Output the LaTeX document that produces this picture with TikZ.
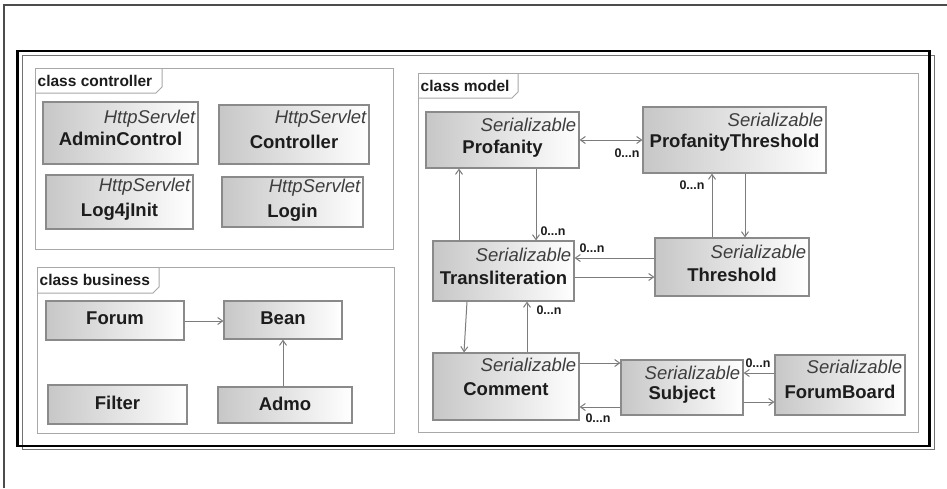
\documentclass[tikz,border=0pt]{standalone}
\usepackage{fontspec}
\setmainfont{Liberation Sans}
\usetikzlibrary{arrows.meta,calc}
\definecolor{framegray}{HTML}{A8A8A8}
\definecolor{boxgray}{HTML}{8A8A8A}
\definecolor{linkgray}{HTML}{7C7C7C}
\definecolor{inkdark}{HTML}{1C1C1C}
\tikzset{
  clsbox/.style={rectangle, draw=boxgray, line width=1.1pt, left color=black!22, right color=white, inner sep=0pt},
  stereo/.style={font=\fontsize{18.5}{20}\selectfont\itshape, text=inkdark!85, inner sep=0pt, anchor=east},
  cname/.style={font=\fontsize{18.5}{20}\selectfont\bfseries, text=inkdark, inner sep=0pt},
  pkgbox/.style={rectangle, draw=framegray, line width=1pt, inner sep=0pt},
  pkgtab/.style={draw=framegray, line width=1pt},
  pkglabel/.style={font=\fontsize{15.5}{17}\selectfont\bfseries, text=inkdark, inner sep=0pt, anchor=west},
  tip/.tip={Straight Barb[length=5pt,width=7pt]},
  assoc/.style={draw=linkgray, line width=1pt, -tip},
  assocboth/.style={draw=linkgray, line width=1pt, tip-tip},
  mult/.style={font=\fontsize{12.5}{13}\selectfont\bfseries, text=inkdark, inner sep=0pt},
}
% class with stereotype: name, x1, y1, x2, y2, stereotype, label, y of stereotype, y of label
\newcommand\umlclass[9]{%
  \node[clsbox, minimum width={(#4)-(#2)}, minimum height={(#5)-(#3)}] (#1) at ({((#2)+(#4))/2},{((#3)+(#5))/2}) {};
  \node[stereo] (#1-st) at ({(#4)-2.5},{#8}) {#6};
  \node[cname] (#1-nm) at ({((#2)+(#4))/2},{#9}) {#7};
}
% class without stereotype: name, x1, y1, x2, y2, label, y of label
\newcommand\umlplain[7]{%
  \node[clsbox, minimum width={(#4)-(#2)}, minimum height={(#5)-(#3)}] (#1) at ({((#2)+(#4))/2},{((#3)+(#5))/2}) {};
  \node[cname] (#1-nm) at ({((#2)+(#4))/2},{#7}) {#6};
}
% package frame with name tab: name, x1, y1, x2, y2, tab right x, tab bottom y, label
\newcommand\umlpkg[8]{%
  \node[pkgbox, minimum width={(#4)-(#2)}, minimum height={(#5)-(#3)}] (#1) at ({((#2)+(#4))/2},{((#3)+(#5))/2}) {};
  \draw[pkgtab] (#2,#7) -- ({(#6)-6},#7) -- (#6,{(#7)-6}) -- (#6,#3);
  \node[pkglabel] (#1-lb) at ({(#2)+2.5},{((#3)+(#7))/2}) {#8};
}
\begin{document}
\begin{tikzpicture}[x=1pt,y=-1pt]
\useasboundingbox (0,0) rectangle (947,488);
\fill[white] (0,0) rectangle (947,488);
% page edge lines
\draw[black!70, line width=2pt] (3.5,488) -- (3.5,5) -- (947,5);
% diagram frame
\node[rectangle, draw=black!55, line width=1pt, minimum width=912, minimum height=394, inner sep=0pt] (shadowframe) at (478,252) {};
\node[rectangle, draw=black, line width=2.6pt, minimum width=912, minimum height=395, inner sep=0pt] (mainframe) at (473.5,248.5) {};

% ---------- package controller ----------
\umlpkg{ctrl}{35}{68}{393}{249}{162}{93}{class controller}
\umlclass{admin}{43}{102}{198}{164}{HttpServlet}{AdminControl}{119}{139}
\umlclass{controller}{219}{105}{369}{164}{HttpServlet}{Controller}{119}{142}
\umlclass{logini}{46}{175}{193}{229}{HttpServlet}{Log4jInit}{187}{212}
\umlclass{login}{222}{177}{363}{227}{HttpServlet}{Login}{188}{213}

% ---------- package business ----------
\umlpkg{biz}{37}{267}{394}{433}{159}{293}{class business}
\umlplain{forum}{46}{301}{184}{340}{Forum}{318}
\umlplain{bean}{224}{301}{342}{339}{Bean}{318}
\umlplain{filter}{48}{385}{187}{424}{Filter}{403}
\umlplain{admo}{218}{387}{352}{423}{Admo}{404}
\draw[assoc] (forum.east |- 0,321) -- (bean.west |- 0,321);
\draw[assoc] (283,0 |- admo.north) -- (283,0 |- bean.south);

% ---------- package model ----------
\umlpkg{model}{418}{73}{918}{432}{518}{98}{class model}
\umlclass{prof}{426}{112}{579}{168}{Serializable}{Profanity}{125}{149}
\umlclass{pthr}{643}{107}{826}{173}{Serializable}{ProfanityThreshold}{120}{143}
\umlclass{trans}{433}{241}{574}{301}{Serializable}{Transliteration}{255}{278}
\umlclass{thr}{655}{238}{809}{296}{Serializable}{Threshold}{252}{275}
\umlclass{comm}{433}{353}{579}{420}{Serializable}{Comment}{365}{389}
\umlclass{subj}{621}{360}{743}{415}{Serializable}{Subject}{373}{395}
\umlclass{board}{775}{355}{905}{415}{Serializable}{ForumBoard}{367}{392}

% associations
\draw[assocboth] (prof.east |- 0,140) -- (pthr.west |- 0,140);
\node[mult] (m1) at (627,153) {0...n};

\draw[assoc] (459,0 |- trans.north) -- (459,0 |- prof.south);
\draw[assoc] (536,0 |- prof.south) -- (536,0 |- trans.north);
\node[mult] (m2) at (553,231) {0...n};

\draw[assoc] (712,0 |- thr.north) -- (712,0 |- pthr.south);
\node[mult] (m3) at (692,185) {0...n};
\draw[assoc] (745,0 |- pthr.south) -- (745,0 |- thr.north);

\draw[assoc] (thr.west |- 0,258) -- (trans.east |- 0,258);
\node[mult] (m4) at (592,248) {0...n};
\draw[assoc] (trans.east |- 0,277) -- (thr.west |- 0,277);

\draw[assoc] (467,0 |- trans.south) -- (464,0 |- comm.north);
\draw[assoc] (527,0 |- comm.north) -- (527,0 |- trans.south);
\node[mult] (m5) at (549,310) {0...n};

\draw[assoc] (comm.east |- 0,363) -- (subj.west |- 0,363);
\draw[assoc] (subj.west |- 0,407) -- (comm.east |- 0,407);
\node[mult] (m6) at (598,418) {0...n};

\draw[assoc] (board.west |- 0,373) -- (subj.east |- 0,373);
\node[mult] (m7) at (758,363) {0...n};
\draw[assoc] (subj.east |- 0,402) -- (board.west |- 0,402);
\end{tikzpicture}
\end{document}
